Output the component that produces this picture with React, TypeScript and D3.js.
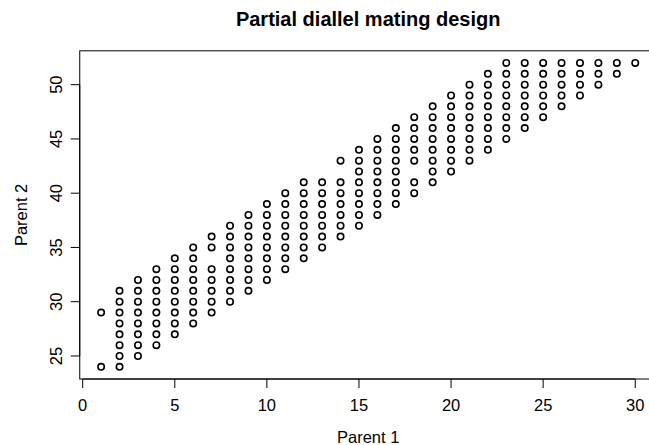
import React from "react";
import * as d3 from "d3";

const title = "Partial diallel mating design";
const xLabel = "Parent 1";
const yLabel = "Parent 2";
const xTicks = [0, 5, 10, 15, 20, 25, 30];
const yTicks = [25, 30, 35, 40, 45, 50];

const parent1 = [1, 2, 3, 4, 5, 6, 7, 8, 9, 10, 11, 12, 13, 14, 15, 16, 17, 18, 19, 20, 21, 22, 23, 24, 25, 26, 27, 28, 29, 30];
const parent2 = [
  [24, 29],
  [24, 25, 26, 27, 28, 29, 30, 31],
  [25, 26, 27, 28, 29, 30, 31, 32],
  [26, 27, 28, 29, 30, 31, 32, 33],
  [27, 28, 29, 30, 31, 32, 33, 34],
  [28, 29, 30, 31, 32, 33, 34, 35],
  [29, 30, 31, 32, 33, 35, 36],
  [30, 31, 32, 33, 34, 35, 36, 37],
  [31, 32, 33, 34, 35, 36, 37, 38],
  [32, 33, 34, 35, 36, 37, 38, 39],
  [33, 34, 35, 36, 37, 38, 39, 40],
  [34, 35, 36, 37, 38, 39, 40, 41],
  [35, 36, 37, 38, 39, 40, 41],
  [36, 37, 38, 39, 40, 41, 43],
  [37, 38, 39, 40, 41, 42, 43, 44],
  [38, 39, 40, 41, 42, 43, 44, 45],
  [39, 40, 41, 42, 43, 44, 45, 46],
  [40, 41, 43, 44, 45, 46, 47],
  [41, 42, 43, 44, 45, 46, 47, 48],
  [42, 43, 44, 45, 46, 47, 48, 49],
  [43, 44, 45, 46, 47, 48, 49, 50],
  [44, 45, 46, 47, 48, 49, 50, 51],
  [45, 46, 47, 48, 49, 50, 51, 52],
  [46, 47, 48, 49, 50, 51, 52],
  [47, 48, 49, 50, 51, 52],
  [48, 49, 50, 51, 52],
  [49, 50, 51, 52],
  [50, 51, 52],
  [51, 52],
  [52],
];

const W = 649;
const H = 445;
const FONT = "'Liberation Sans', Arial, Helvetica, sans-serif";

export default function App() {
  const points: { x: number; y: number }[] = [];
  parent1.forEach((p, i) => parent2[i].forEach((q) => points.push({ x: p, y: q })));

  const xMin = d3.min(points, (d) => d.x)!;
  const xMax = d3.max(points, (d) => d.x)!;
  const yMin = d3.min(points, (d) => d.y)!;
  const yMax = d3.max(points, (d) => d.y)!;
  const xPad = (xMax - xMin) * 0.04;
  const yPad = (yMax - yMin) * 0.04;

  const left = 79.75;
  const right = 656.6;
  const top = 50.8;
  const bottom = 379;

  const x = d3.scaleLinear().domain([xMin - xPad, xMax + xPad]).range([left, right]);
  const y = d3.scaleLinear().domain([yMin - yPad, yMax + yPad]).range([bottom, top]);

  const tick = 9;
  const fs = 16.5;

  return (
    <svg
      width={W}
      height={H}
      style={{ position: "absolute", left: 0, top: 0, display: "block", background: "#fff" }}
      fontFamily={FONT}
    >
      <rect x={0} y={0} width={W} height={H} fill="#fff" />
      <text x={(left + right) / 2} y={26} textAnchor="middle" fontWeight="bold" fontSize={20}>
        {title}
      </text>
      {/* box */}
      <rect x={left} y={top} width={right - left} height={bottom - top} fill="none" stroke="#000" strokeWidth={1} />
      {/* x axis */}
      <line x1={x(xTicks[0])} x2={x(xTicks[xTicks.length - 1])} y1={bottom} y2={bottom} stroke="#000" />
      {xTicks.map((t) => (
        <g key={"xt" + t}>
          <line x1={x(t)} x2={x(t)} y1={bottom} y2={bottom + tick} stroke="#000" />
          <text x={x(t)} y={410.5} textAnchor="middle" fontSize={fs}>
            {t}
          </text>
        </g>
      ))}
      {/* y axis */}
      <line x1={left} x2={left} y1={y(yTicks[0])} y2={y(yTicks[yTicks.length - 1])} stroke="#000" />
      {yTicks.map((t) => (
        <g key={"yt" + t}>
          <line x1={left - tick} x2={left} y1={y(t)} y2={y(t)} stroke="#000" />
          <text
            transform={`translate(${61.5},${y(t)}) rotate(-90)`}
            textAnchor="middle"
            fontSize={fs}
          >
            {t}
          </text>
        </g>
      ))}
      <text x={(left + right) / 2} y={443} textAnchor="middle" fontSize={fs}>
        {xLabel}
      </text>
      <text transform={`translate(${27},${(top + bottom) / 2}) rotate(-90)`} textAnchor="middle" fontSize={fs}>
        {yLabel}
      </text>
      {points.map((d, i) => (
        <circle key={i} cx={x(d.x)} cy={y(d.y)} r={3.2} fill="none" stroke="#000" strokeWidth={1.6} />
      ))}
    </svg>
  );
}
